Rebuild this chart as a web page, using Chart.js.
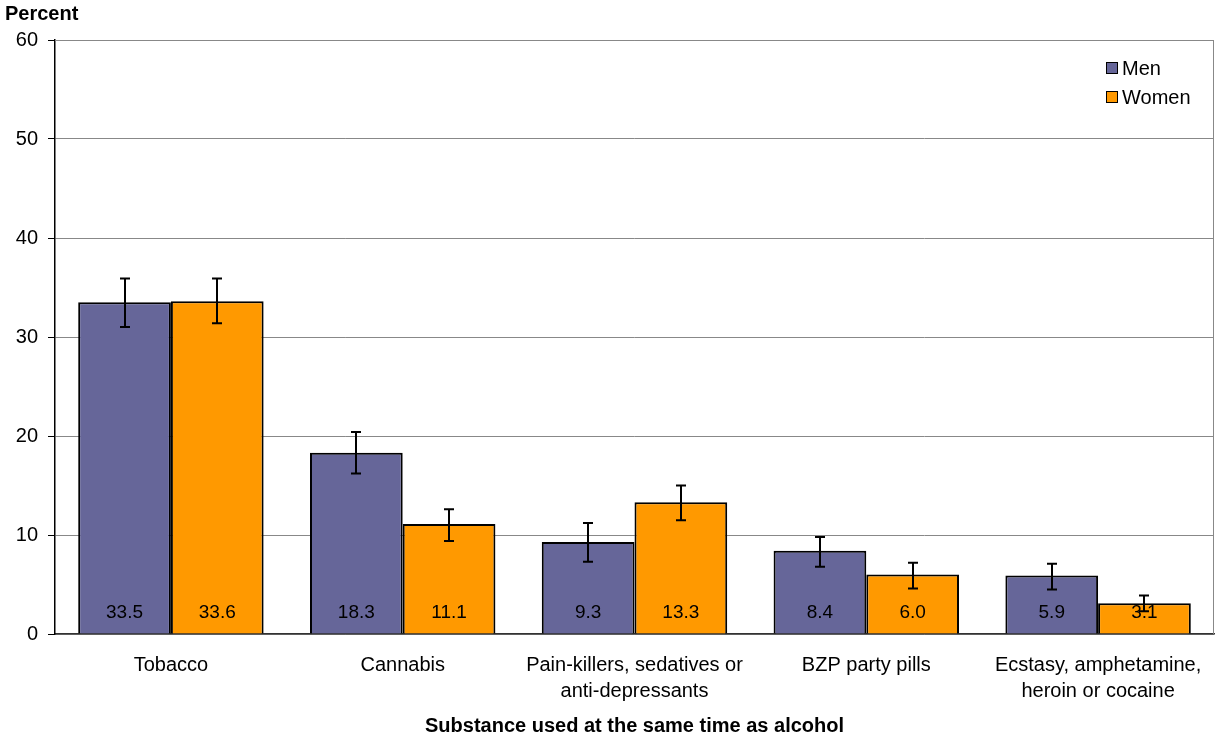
<!DOCTYPE html>
<html>
<head>
<meta charset="utf-8">
<script src="https://cdn.jsdelivr.net/npm/chart.js@4/dist/chart.umd.min.js"></script>
<style>
  html, body { margin: 0; padding: 0; background: #fff; }
  #wrap { width: 1215px; height: 738px; position: relative; }
</style>
</head>
<body>
<div id="wrap"><canvas id="chart"></canvas></div>
<script>
const categories = [
  "Tobacco",
  "Cannabis",
  ["Pain-killers, sedatives or", "anti-depressants"],
  "BZP party pills",
  ["Ecstasy, amphetamine,", "heroin or cocaine"],
];
const men = [33.5, 18.3, 9.3, 8.4, 5.9];
const women = [33.6, 11.1, 13.3, 6.0, 3.1];
const menLow = [31.0, 16.2, 7.3, 6.8, 4.5];
const menHigh = [35.9, 20.4, 11.2, 9.8, 7.1];
const womenLow = [31.4, 9.4, 11.5, 4.6, 2.3];
const womenHigh = [35.9, 12.6, 15.0, 7.2, 3.9];
const yTicks = [0, 10, 20, 30, 40, 50, 60];

const FONT = "'Liberation Sans', Arial, sans-serif";
Chart.defaults.font.family = FONT;
Chart.defaults.font.size = 20;
Chart.defaults.color = "#000";

const extras = {
  id: "extras",
  beforeDatasetsDraw(chart) {
    const { ctx, chartArea: a } = chart;
    ctx.save();
    ctx.strokeStyle = "#888";
    ctx.lineWidth = 1;
    ctx.beginPath();
    ctx.moveTo(a.left, a.top + 0.5);
    ctx.lineTo(a.right - 0.5, a.top + 0.5);
    ctx.lineTo(a.right - 0.5, a.bottom);
    ctx.stroke();
    ctx.restore();
  },
  afterDatasetsDraw(chart) {
    const { ctx, chartArea: a, scales } = chart;
    const y = scales.y;
    ctx.save();
    // value labels
    ctx.font = "19px " + FONT;
    ctx.fillStyle = "#000";
    ctx.textAlign = "center";
    ctx.textBaseline = "middle";
    chart.data.datasets.forEach((ds, i) => {
      chart.getDatasetMeta(i).data.forEach((bar, j) => {
        ctx.fillText(ds.data[j].toFixed(1), bar.x, a.bottom - 21);
      });
    });
    // error bars
    const lows = [menLow, womenLow];
    const highs = [menHigh, womenHigh];
    ctx.strokeStyle = "#000";
    ctx.lineWidth = 2;
    chart.data.datasets.forEach((ds, i) => {
      chart.getDatasetMeta(i).data.forEach((bar, j) => {
        const x = Math.round(bar.x);
        const yl = y.getPixelForValue(lows[i][j]);
        const yh = y.getPixelForValue(highs[i][j]);
        ctx.beginPath();
        ctx.moveTo(x, yl);
        ctx.lineTo(x, yh);
        ctx.moveTo(x - 5, yl);
        ctx.lineTo(x + 5, yl);
        ctx.moveTo(x - 5, yh);
        ctx.lineTo(x + 5, yh);
        ctx.stroke();
      });
    });
    ctx.restore();
  },
  afterDraw(chart) {
    const { ctx, chartArea: a } = chart;
    ctx.save();
    ctx.fillStyle = "#000";
    ctx.font = "bold 20px " + FONT;
    ctx.textBaseline = "middle";
    ctx.textAlign = "left";
    ctx.fillText("Percent", 5, 14);
    ctx.textAlign = "center";
    ctx.fillText("Substance used at the same time as alcohol", (a.left + a.right) / 2, 726);
    // legend
    ctx.font = "20px " + FONT;
    ctx.textAlign = "left";
    chart.data.datasets.forEach((ds, i) => {
      const top = 62 + i * 29;
      ctx.fillStyle = ds.backgroundColor;
      ctx.fillRect(1106, top, 12, 12);
      ctx.strokeStyle = "#000";
      ctx.lineWidth = 1;
      ctx.strokeRect(1106.5, top + 0.5, 11, 11);
      ctx.fillStyle = "#000";
      ctx.fillText(ds.label, 1122, top + 7);
    });
    ctx.restore();
  },
};

new Chart(document.getElementById("chart"), {
  type: "bar",
  data: {
    labels: categories,
    datasets: [
      {
        label: "Men",
        data: men,
        backgroundColor: "#666699",
        borderColor: "#000",
        borderWidth: 2,
        borderSkipped: "bottom",
      },
      {
        label: "Women",
        data: women,
        backgroundColor: "#FF9900",
        borderColor: "#000",
        borderWidth: 2,
        borderSkipped: "bottom",
      },
    ],
  },
  options: {
    responsive: true,
    maintainAspectRatio: false,
    animation: false,
    categoryPercentage: 0.8,
    barPercentage: 1.0,
    layout: { padding: { top: 40, right: 1, left: 0, bottom: 0 } },
    plugins: {
      legend: { display: false },
      tooltip: { enabled: false },
    },
    scales: {
      x: {
        grid: { display: false, drawTicks: false },
        border: { color: "#333", width: 1.5 },
        ticks: { padding: 18, maxRotation: 0, autoSkip: false, font: { size: 20, lineHeight: 1.3 } },
        afterFit: (s) => { s.height = 104; s.paddingLeft = 0; s.paddingRight = 0; },
      },
      y: {
        min: 0,
        max: 60,
        afterBuildTicks: (s) => { s.ticks = yTicks.map((v) => ({ value: v })); },
        grid: { color: "#888", lineWidth: 1, tickLength: 7, tickColor: "#000" },
        border: { color: "#000", width: 1.5 },
        ticks: { padding: 10, font: { size: 20 } },
        afterFit: (s) => { s.width = 55; s.paddingTop = 0; s.paddingBottom = 0; },
      },
    },
  },
  plugins: [extras],
});
</script>
</body>
</html>
